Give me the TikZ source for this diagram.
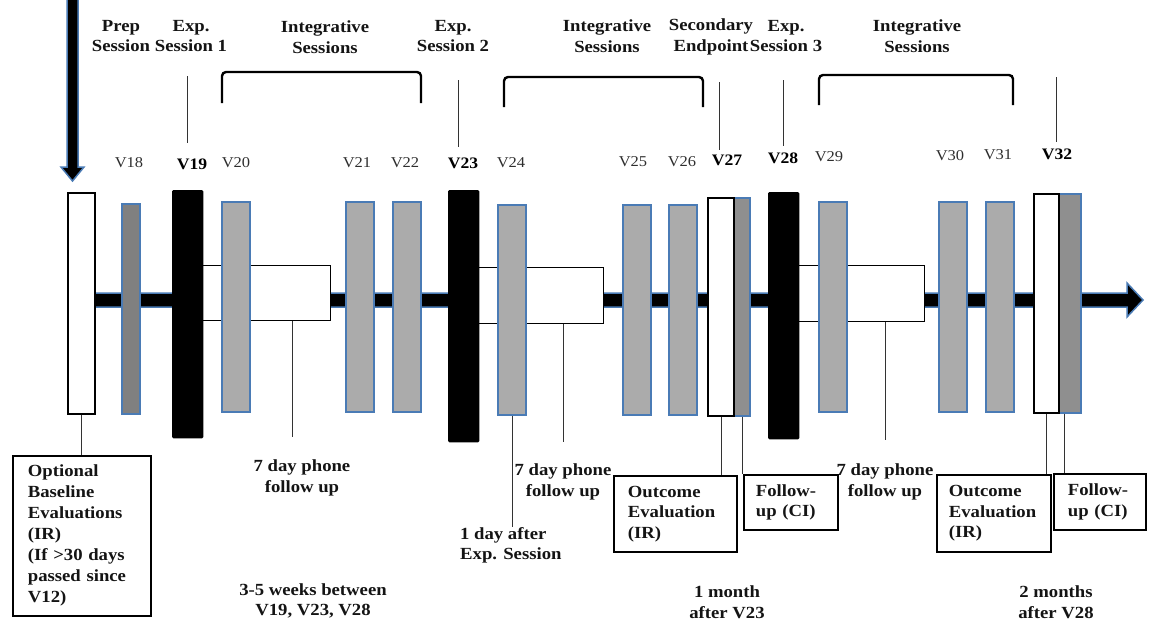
\documentclass[tikz,border=0pt]{standalone}
\usepackage{fontspec}
\setmainfont{Liberation Serif}[FakeStretch=1.1]
\usepackage{tikz}
\definecolor{visitblue}{HTML}{4A7BB5}
\definecolor{lightbar}{HTML}{ABABAB}
\definecolor{darkbar}{HTML}{808080}
\definecolor{midbar}{HTML}{8F8F8F}

\tikzset{
  bar/.style={anchor=north west,inner sep=0pt,line width=1.4pt},
  visit/.style={bar,draw=visitblue,fill=lightbar,line width=1.9pt},
  fuvisit/.style={bar,draw=visitblue,fill=#1,line width=1.9pt},
  expbar/.style={bar,draw=black,fill=black,rounded corners=1pt},
  evalbar/.style={bar,draw=black,fill=white,line width=1.7pt},
  phonebox/.style={bar,draw=black,fill=white,line width=1.4pt},
  axis/.style={fill=black,draw=visitblue,line width=1.5pt,line join=miter},
  bracket/.style={line width=2.4pt,rounded corners=4pt},
  tick/.style={line width=0.6pt,black!80},
  lbl/.style={font=\bfseries\fontsize{17}{20.5}\selectfont,align=center,inner sep=0pt,text=black!92},
  vlbl/.style={font=\fontsize{15}{18}\selectfont,inner sep=0pt,text=black!82},
  vbold/.style={font=\bfseries\fontsize{16}{18}\selectfont,inner sep=0pt},
  infobox/.style={draw=black,line width=1.8pt,anchor=north west,inner ysep=0pt,
    font=\bfseries\fontsize{17}{20.5}\selectfont,align=left,text=black!92}
}

\begin{document}
\begin{tikzpicture}[x=1pt,y=-1pt]
\useasboundingbox (0,0) rectangle (1150,621);

% time line and entry arrow
\draw[axis] (90,293) -- (1127,293) -- (1127,283) -- (1143,300) -- (1127,317) -- (1127,307) -- (90,307) -- cycle;
\draw[axis] (67,-3) -- (67,167) -- (61,167) -- (72.5,181) -- (84,167) -- (78,167) -- (78,-3) -- cycle;

% phone follow up boxes
\node[phonebox,minimum width=128,minimum height=55] (fu1) at (202,265) {};
\node[phonebox,minimum width=125,minimum height=56] (fu2) at (478,267) {};
\node[phonebox,minimum width=127,minimum height=56] (fu3) at (797,265) {};

% visits
\node[evalbar,minimum width=27,minimum height=221] (base) at (67,192) {};
\node[fuvisit=darkbar,minimum width=18,minimum height=210] (v18) at (121,203) {};
\foreach \n/\x/\y/\h in {19/172/190/247, 23/448/190/251, 28/768/192/246}
  \node[expbar,minimum width=30,minimum height=\h] (v\n) at (\x,\y) {};
\foreach \n/\x/\y in {20/221/201, 21/345/201, 22/392/201, 24/497/204, 25/622/204,
                      26/668/204, 29/818/201, 30/938/201, 31/985/201}
  \node[visit,minimum width=28,minimum height=210] (v\n) at (\x,\y) {};
\node[fuvisit=midbar,minimum width=16,minimum height=218] (v27g) at (733,197) {};
\node[evalbar,minimum width=26,minimum height=218] (v27) at (707,197) {};
\node[fuvisit=midbar,minimum width=22,minimum height=219] (v32g) at (1058,193) {};
\node[evalbar,minimum width=25,minimum height=219] (v32) at (1033,193) {};

% visit labels
\foreach \n/\x/\y in {18/129/163, 20/236/163, 21/357/163, 22/405/163, 24/511/163,
                      25/633/162, 26/682/162, 29/829/157, 30/950/156, 31/998/155}
  \node[vlbl] (l\n) at (\x,\y) {V\n};
\foreach \n/\x/\y in {19/192/164, 23/463/163, 27/727/160, 28/783/158, 32/1057/154}
  \node[vbold] (l\n) at (\x,\y) {V\n};

% session headings
\node[lbl] (prep) at (121,36) {Prep\\Session};
\node[lbl] (exp1) at (191,36) {Exp.\\Session 1};
\node[lbl] (int1) at (325,37) {Integrative\\Sessions};
\node[lbl] (exp2) at (453,36) {Exp.\\Session 2};
\node[lbl] (int2) at (607,36) {Integrative\\Sessions};
\node[lbl] (second) at (711,37) {Secondary\\Endpoint};
\node[lbl] (exp3) at (786,36) {Exp.\\Session 3};
\node[lbl] (int3) at (917,36) {Integrative\\Sessions};

\draw[bracket] (222,103) -- (222,72) -- (421,72) -- (421,103);
\draw[bracket] (504,107) -- (504,77) -- (703,77) -- (703,107);
\draw[bracket] (819,105) -- (819,75) -- (1013,75) -- (1013,105);

\draw[tick] (187,76) -- (187,143);
\draw[tick] (458,80) -- (458,147);
\draw[tick] (719,82) -- (719,150);
\draw[tick] (783,80) -- (783,146);
\draw[tick] (1056,77) -- (1056,142);

% notes below the time line
\node[infobox,minimum width=138,minimum height=160,text width=108,inner xsep=15,
  font=\bfseries\fontsize{17}{21}\selectfont] (basebox) at (12,455)
  {Optional\\Baseline\\Evaluations\\(IR)\\(If >30 days\\passed since\\V12)};
\node[lbl] (ph1) at (302,478) {7 day phone\\follow up};
\node[lbl] (ph2) at (563,482) {7 day phone\\follow up};
\node[lbl] (ph3) at (885,482) {7 day phone\\follow up};
\node[lbl,align=left,anchor=north west] (day1) at (460,527) {1 day after\\Exp. Session};
\node[infobox,minimum width=123,minimum height=76,text width=95,inner xsep=14] (oe1) at (613,475)
  {Outcome\\Evaluation\\(IR)};
\node[infobox,minimum width=94,minimum height=55,text width=70,inner xsep=12] (fc1) at (743,474)
  {Follow-\\up (CI)};
\node[infobox,minimum width=114,minimum height=77,text width=90,inner xsep=12] (oe2) at (936,474)
  {Outcome\\Evaluation\\(IR)};
\node[infobox,minimum width=92,minimum height=56,text width=64,inner xsep=14] (fc2) at (1053,473)
  {Follow-\\up (CI)};
\node[lbl] (weeks) at (313,601) {3-5 weeks between\\V19, V23, V28};
\node[lbl] (month1) at (727,602) {1 month\\after V23};
\node[lbl] (month2) at (1056,602) {2 months\\after V28};

% connectors
\coordinate (t1) at (292,437);
\draw[tick] (t1 |- fu1.south) -- (t1);
\draw[tick,shorten >=22pt] (fu2.south -| ph2.north) -- (ph2.north);
\draw[tick,shorten >=24pt] (fu3.south -| ph3.north) -- (ph3.north);
\draw[tick] (base.south) -- (base.south |- basebox.north);
\draw[tick] (v24.south) -- (v24.south |- day1.north);
\draw[tick] (v27.south) -- (v27.south |- oe1.north);
\draw[tick] (v27g.south) -- (v27g.south |- fc1.north);
\draw[tick] (v32.south) -- (v32.south |- oe2.north);
\draw[tick] ([xshift=-6pt]v32g.south) -- ([xshift=-6pt]v32g.south |- fc2.north);
\end{tikzpicture}
\end{document}
